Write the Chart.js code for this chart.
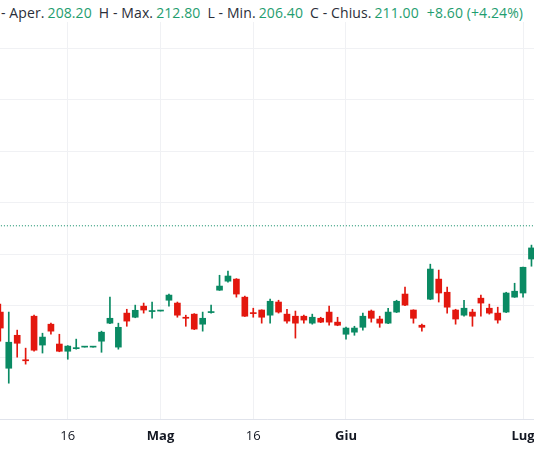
<!DOCTYPE html>
<html>
<head>
<meta charset="utf-8">
<script src="https://cdn.jsdelivr.net/npm/chart.js@4.4.1/dist/chart.umd.min.js"></script>
<style>
  html, body { margin: 0; padding: 0; background: #fff; }
  #wrap { position: relative; width: 534px; height: 462px; overflow: hidden; }
  #chart { position: absolute; left: 0; top: 0; }
  #legend {
    position: absolute; left: 0; top: 0; width: 534px; height: 22px;
    background: #fff; color: #2a2e39; white-space: nowrap;
    font: 14px "Open Sans", sans-serif; line-height: 20px; letter-spacing: 0.1px;
    padding: 3px 0 0 1px; box-sizing: border-box;
  }
  #legend .v { color: #1f9d6f; margin-left: 3px; margin-right: 7px; }
</style>
</head>
<body>
<div id="wrap">
  <canvas id="chart" width="534" height="462"></canvas>
  <div id="legend"></div>
</div>
<script>
// daily candles, oldest first (last one sits just past the right edge)
const opens = [
  177.5, 155.7, 168.5, 159.0, 175.9, 164.7, 172.8, 165.1, 162.3, 163.3,
  163.9, 163.9, 166.2, 173.2, 163.9, 177.1, 175.5, 179.8, 177.7, 177.9,
  182.1, 181.0, 175.5, 176.7, 172.8, 177.3, 186.0, 189.5, 190.3, 183.3,
  177.3, 178.3, 176.3, 181.4, 176.7, 175.9, 175.9, 173.2, 175.1, 177.5,
  173.6, 168.9, 169.7, 171.6, 177.9, 174.8, 173.2, 177.5, 184.5, 178.3,
  172.4, 182.5, 190.3, 185.2, 178.3, 176.3, 177.5, 182.9, 179.0, 177.1,
  177.5, 183.3, 184.9, 198.1, 208.2
];
const highs = [
  180.6, 177.5, 170.5, 163.5, 176.3, 169.3, 173.2, 168.9, 164.5, 167.0,
  163.9, 163.9, 170.1, 183.3, 173.2, 178.6, 180.2, 181.0, 181.4, 177.9,
  184.5, 181.4, 176.3, 176.9, 177.5, 180.2, 191.8, 193.4, 190.5, 183.7,
  179.0, 178.4, 182.5, 182.1, 178.6, 177.9, 176.3, 176.7, 175.5, 179.8,
  175.5, 171.7, 172.0, 177.1, 178.3, 175.9, 179.0, 182.1, 187.2, 178.4,
  172.8, 196.1, 193.8, 187.2, 178.6, 182.1, 178.6, 184.1, 180.6, 179.4,
  185.2, 188.7, 195.0, 203.5, 212.8
];
const lows = [
  166.2, 149.9, 160.0, 157.3, 162.3, 161.6, 168.9, 162.1, 159.2, 163.1,
  163.9, 163.9, 161.9, 173.0, 163.1, 172.0, 175.3, 177.1, 175.1, 177.9,
  179.8, 175.5, 172.0, 170.7, 170.1, 177.1, 185.9, 189.1, 183.3, 175.8,
  175.5, 173.2, 173.2, 177.1, 173.2, 167.4, 173.2, 172.8, 173.4, 172.4,
  172.2, 167.0, 168.5, 170.5, 173.6, 171.6, 173.0, 177.3, 180.0, 173.2,
  170.1, 182.3, 181.4, 177.1, 172.8, 175.9, 172.0, 175.9, 176.7, 173.2,
  177.3, 183.2, 183.3, 195.3, 206.4
];
const closes = [
  171.3, 165.8, 165.4, 158.6, 162.7, 167.8, 170.1, 162.3, 164.3, 163.7,
  163.9, 163.9, 169.7, 175.1, 171.6, 174.0, 178.2, 178.3, 178.1, 177.9,
  184.1, 176.3, 175.1, 170.9, 175.1, 177.7, 187.6, 191.5, 184.5, 175.9,
  176.9, 175.5, 181.7, 177.5, 174.0, 173.2, 174.4, 175.5, 173.6, 173.6,
  172.4, 171.3, 171.3, 175.9, 175.1, 173.2, 177.5, 181.7, 180.2, 175.1,
  171.6, 194.2, 184.9, 179.4, 174.8, 179.0, 175.9, 181.0, 177.1, 174.4,
  184.9, 185.6, 194.9, 202.4, 211.0
];

// time axis labels and the bar each one sits on
const tickLabels = ['16', 'Mag', '16', 'Giu', 'Lug'];
const tickBars = [8, 19, 30, 41, 62];

const legendLabels = ['- Aper.', 'H - Max.', 'L - Min.', 'C - Chius.'];
const changeText = '+8.60 (+4.24%)';

const UP = '#0a8a63';
const DOWN = '#e3170e';
const FONT = '"Open Sans", sans-serif';

const last = closes.length - 1;
const legendValues = [opens[last], highs[last], lows[last], closes[last]];
document.getElementById('legend').innerHTML =
  legendLabels.map((l, i) => `<span>${l}</span><span class="v">${legendValues[i].toFixed(2)}</span>`).join('') +
  `<span class="v" style="margin-left:1px">${changeText}</span>`;

const idx = opens.map((_, i) => i);
const colors = idx.map(i => (closes[i] >= opens[i] ? UP : DOWN));

new Chart(document.getElementById('chart'), {
  type: 'bar',
  data: {
    datasets: [
      {
        label: 'body',
        data: idx.map(i => ({ x: i, y: [opens[i], closes[i]] })),
        backgroundColor: colors,
        barThickness: 6,
        minBarLength: 1,
        grouped: false,
      },
      {
        label: 'wick',
        data: idx.map(i => ({ x: i, y: [lows[i], highs[i]] })),
        backgroundColor: colors,
        barThickness: 1,
        grouped: false,
      },
      {
        type: 'line',
        label: 'last',
        data: [{ x: -1, y: closes[last] }, { x: last + 5, y: closes[last] }],
        borderColor: UP,
        borderWidth: 1,
        borderDash: [1, 2],
        pointRadius: 0,
      },
    ],
  },
  options: {
    responsive: false,
    animation: false,
    layout: { padding: 0 },
    plugins: { legend: { display: false }, tooltip: { enabled: false } },
    scales: {
      x: {
        type: 'linear',
        offset: false,
        min: -0.04,
        max: 63.3,
        afterBuildTicks: (s) => { s.ticks = tickBars.map(v => ({ value: v })); },
        afterFit: (s) => { s.height = 43; s.paddingLeft = 0; s.paddingRight = 0; },
        grid: { color: '#f0f1f4', drawTicks: false, offset: false },
        border: { color: '#e0e3eb' },
        ticks: {
          autoSkip: false,
          maxRotation: 0,
          padding: 9,
          color: '#131722',
          callback: (v) => tickLabels[tickBars.indexOf(v)],
          font: (c) => ({
            family: FONT,
            size: 13,
            weight: /^\d/.test(tickLabels[c.index] || '') ? 'normal' : 'bold',
          }),
        },
      },
      y: {
        min: 136,
        max: 298.64,
        afterFit: (s) => { s.width = 0; s.paddingTop = 0; s.paddingBottom = 0; },
        grid: { color: '#f0f1f4', drawTicks: false },
        border: { display: false },
        ticks: { display: false, stepSize: 20 },
      },
    },
  },
});
</script>
</body>
</html>
